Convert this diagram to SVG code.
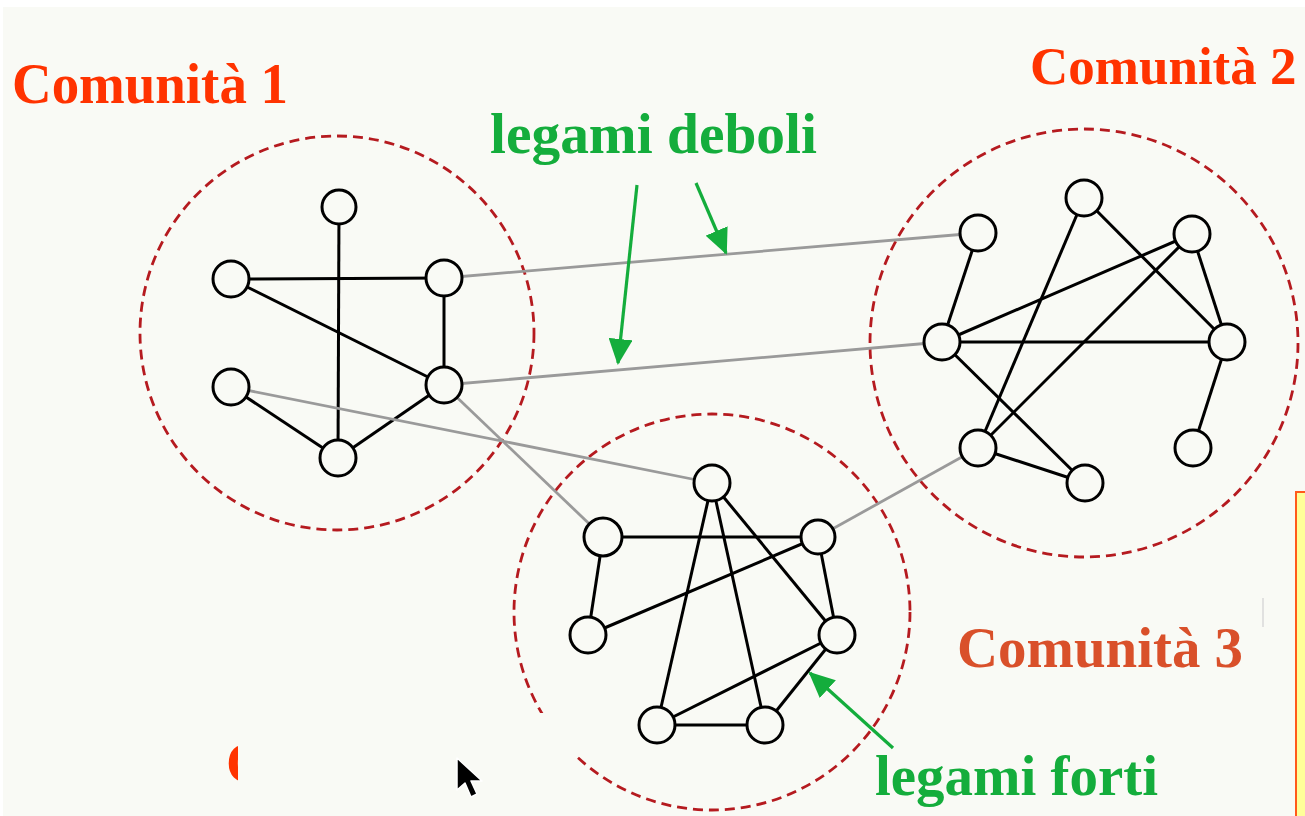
<svg xmlns="http://www.w3.org/2000/svg" width="1305" height="816" viewBox="0 0 1305 816">
<style>
.bg{fill:#f9faf5}
.comm{fill:none;stroke:#b51a1f;stroke-width:2.8;stroke-dasharray:10 6}
.e{stroke:#000;stroke-width:3;fill:none}
.w{stroke:#9a9a9a;stroke-width:2.8;fill:none}
.n{fill:#f9faf5;stroke:#000;stroke-width:3}
.ttl{font-family:"Liberation Serif","Times New Roman",serif;font-weight:bold}
.red{fill:#ff3300}
.red3{fill:#d9502a}
.grn{fill:#14ad3c}
.ga{stroke:#14ad3c;stroke-width:3.2;fill:none}
</style>
<defs>
<marker id="ah" viewBox="0 0 26 24" refX="24" refY="12" markerWidth="26" markerHeight="24" markerUnits="userSpaceOnUse" orient="auto">
<path d="M0,0 L26,12 L0,24 z" fill="#14ad3c"/>
</marker>
<clipPath id="cclip"><rect x="0" y="700" width="238" height="116"/></clipPath>
</defs>
<rect x="0" y="0" width="1305" height="816" fill="#ffffff"/>
<rect class="bg" x="3" y="7" width="1302" height="809"/>

<g id="communities">
<circle class="comm" cx="337" cy="333" r="197"/>
<circle class="comm" cx="1084" cy="343" r="214"/>
<circle class="comm" cx="712" cy="612" r="198"/>
</g>

<g id="connectors">
<!-- community 1 -->
<line class="e" x1="339" y1="207" x2="338" y2="458"/>
<line class="e" x1="231" y1="279" x2="444" y2="278"/>
<line class="e" x1="231" y1="279" x2="444" y2="385"/>
<line class="e" x1="444" y1="278" x2="444" y2="385"/>
<line class="e" x1="231" y1="387" x2="338" y2="458"/>
<line class="e" x1="444" y1="385" x2="338" y2="458"/>
<!-- community 2 -->
<line class="e" x1="978" y1="233" x2="942" y2="342"/>
<line class="e" x1="1084" y1="198" x2="978" y2="448"/>
<line class="e" x1="1084" y1="198" x2="1227" y2="342"/>
<line class="e" x1="1192" y1="234" x2="942" y2="342"/>
<line class="e" x1="1192" y1="234" x2="978" y2="448"/>
<line class="e" x1="1192" y1="234" x2="1227" y2="342"/>
<line class="e" x1="942" y1="342" x2="1227" y2="342"/>
<line class="e" x1="942" y1="342" x2="1085" y2="483"/>
<line class="e" x1="978" y1="448" x2="1085" y2="483"/>
<line class="e" x1="1227" y1="342" x2="1193" y2="448"/>
<!-- community 3 -->
<line class="e" x1="603" y1="537" x2="818" y2="537"/>
<line class="e" x1="603" y1="537" x2="588" y2="635"/>
<line class="e" x1="588" y1="635" x2="818" y2="537"/>
<line class="e" x1="712" y1="483" x2="657" y2="725"/>
<line class="e" x1="712" y1="483" x2="765" y2="725"/>
<line class="e" x1="712" y1="483" x2="837" y2="635"/>
<line class="e" x1="818" y1="537" x2="837" y2="635"/>
<line class="e" x1="837" y1="635" x2="657" y2="725"/>
<line class="e" x1="837" y1="635" x2="765" y2="725"/>
<line class="e" x1="657" y1="725" x2="765" y2="725"/>
<!-- weak ties -->
<line class="w" x1="444" y1="278" x2="978" y2="233"/>
<line class="w" x1="444" y1="385" x2="942" y2="342"/>
<line class="w" x1="231" y1="387" x2="712" y2="483"/>
<line class="w" x1="444" y1="385" x2="603" y2="537"/>
<line class="w" x1="978" y1="448" x2="818" y2="537"/>
</g>

<g id="c1-nodes">
<circle class="n" cx="339" cy="207" r="17"/>
<circle class="n" cx="231" cy="279" r="18"/>
<circle class="n" cx="444" cy="278" r="18"/>
<circle class="n" cx="231" cy="387" r="18"/>
<circle class="n" cx="444" cy="385" r="18"/>
<circle class="n" cx="338" cy="458" r="18"/>
</g>
<g id="c2-nodes">
<circle class="n" cx="978" cy="233" r="18"/>
<circle class="n" cx="1084" cy="198" r="18"/>
<circle class="n" cx="1192" cy="234" r="18"/>
<circle class="n" cx="942" cy="342" r="18"/>
<circle class="n" cx="1227" cy="342" r="18"/>
<circle class="n" cx="978" cy="448" r="18"/>
<circle class="n" cx="1193" cy="448" r="18"/>
<circle class="n" cx="1085" cy="483" r="18"/>
</g>
<g id="c3-nodes">
<circle class="n" cx="712" cy="483" r="18"/>
<circle class="n" cx="603" cy="537" r="19"/>
<circle class="n" cx="818" cy="537" r="17"/>
<circle class="n" cx="588" cy="635" r="18"/>
<circle class="n" cx="837" cy="635" r="18"/>
<circle class="n" cx="657" cy="725" r="18"/>
<circle class="n" cx="765" cy="725" r="18"/>
</g>

<rect class="bg" x="238" y="713" width="338" height="103"/>

<g id="labels">
<text class="ttl red" x="12" y="103" font-size="56" textLength="276" lengthAdjust="spacingAndGlyphs">Comunità 1</text>
<text class="ttl red" x="1030" y="84" font-size="53">Comunità 2</text>
<text class="ttl red3" x="957" y="667" font-size="58" textLength="286" lengthAdjust="spacingAndGlyphs">Comunità 3</text>
<text class="ttl grn" x="490" y="153" font-size="58" textLength="327" lengthAdjust="spacingAndGlyphs">legami deboli</text>
<text class="ttl grn" x="875" y="795" font-size="58" textLength="283" lengthAdjust="spacingAndGlyphs">legami forti</text>
<text class="ttl red" x="226" y="782" font-size="56" clip-path="url(#cclip)">C</text>
</g>

<g id="arrows">
<line class="ga" x1="637" y1="185" x2="618" y2="363" marker-end="url(#ah)"/>
<line class="ga" x1="696" y1="183" x2="726" y2="253" marker-end="url(#ah)"/>
<line class="ga" x1="893" y1="748" x2="810" y2="673" marker-end="url(#ah)"/>
</g>

<line x1="1263" y1="598" x2="1263" y2="627" stroke="#d8d8d8" stroke-width="1.5"/>
<rect x="1296" y="492" width="12" height="330" fill="#ffff99" stroke="#ff5a1a" stroke-width="2"/>

<path d="M457,758 L457,790 L465,783 L471,797 L477,794 L471,781 L482,781 Z" fill="#000" stroke="#fff" stroke-width="1.5" stroke-linejoin="round"/>
</svg>
